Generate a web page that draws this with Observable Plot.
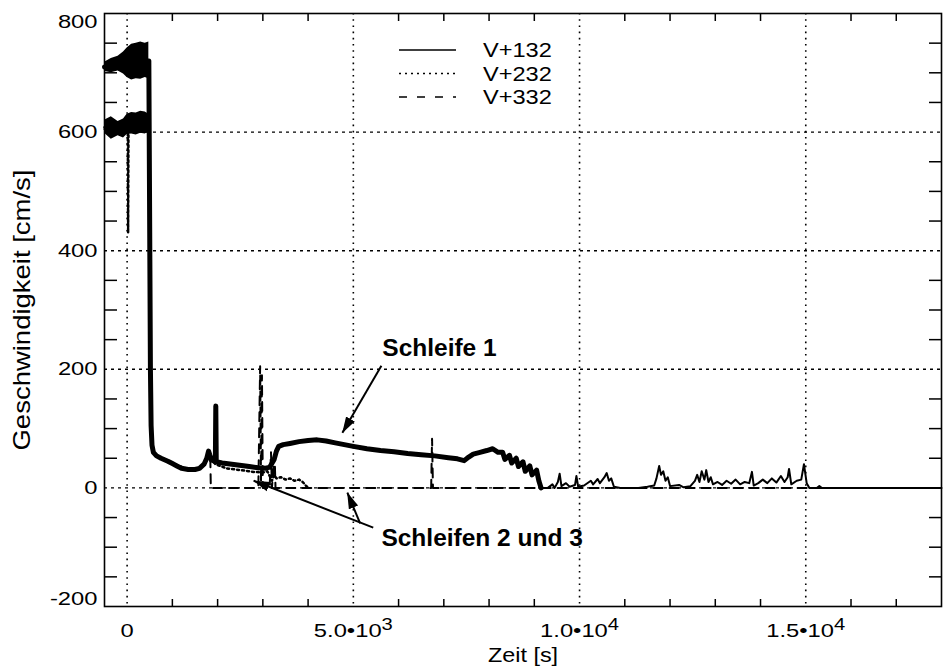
<!DOCTYPE html>
<html><head><meta charset="utf-8">
<script src="https://cdn.jsdelivr.net/npm/d3@7"></script>
<script src="https://cdn.jsdelivr.net/npm/@observablehq/plot@0.6"></script>
<style>
body{margin:0;background:#fff;}
#chart svg{font-family:"Liberation Sans",Arial,Helvetica,sans-serif;}
</style></head><body><div id="chart"></div>
<script>
// ---- series names ----
const seriesNames = ["V+132", "V+232", "V+332"];

// ---- noisy high-speed bands before the drop (time s, low / high cm/s) ----
const bandTime  = [-500, -350, -200, -80, 0, 100, 200, 300, 400, 480];
const band132Lo = [702, 700, 703, 698, 692, 688, 690, 689, 692, 690];
const band132Hi = [718, 724, 728, 735, 742, 748, 750, 752, 750, 752];
const band232Lo = [598, 588, 594, 590, 596, 597, 595, 598, 597, 600];
const band232Hi = [620, 626, 618, 622, 630, 633, 632, 635, 634, 630];

// ---- V+132 (Schleife 1) ----
const v132 = [
 [-500,710],[480,720],[500,420],[515,200],[530,105],[550,72],[580,60],[650,54],[750,50],[900,45],
 [1000,41],[1100,37],[1200,33],[1350,31],[1500,31],[1600,33],[1700,40],[1760,50],[1800,62],[1830,55],
 [1870,47],[1950,44],[1960,138],[1970,44],[2100,42],[2400,39],[2700,36],[2900,34],[3050,33],[3150,35],
 [3250,48],[3300,62],[3350,70],[3450,73],[3600,75],[3800,78],[4000,80],[4200,81],[4400,79],[4600,76],
 [4800,73],[5000,70],[5300,66],[5600,63],[5900,61],[6200,58],[6500,56],[6800,54],[7100,51],[7300,49],
 [7450,46],[7550,52],[7650,57],[7800,60],[7950,63],[8080,66],[8200,60],[8300,60],[8350,48],[8450,55],
 [8500,42],[8600,50],[8650,36],[8750,44],[8800,28],[8900,37],[8950,22],[9050,30],[9100,12],[9150,0],
 [9300,0],[9400,6],[9450,0],[9520,10],[9560,24],[9600,3],[9700,8],[9780,2],[9900,5],[9930,20],
 [9970,2],[10100,4],[10250,12],[10300,6],[10400,15],[10450,8],[10550,18],[10600,25],[10650,12],[10700,16],
 [10760,2],[10900,0],[11300,0],[11500,2],[11650,4],[11700,16],[11760,37],[11800,22],[11850,28],[11900,12],
 [11950,18],[12000,3],[12200,5],[12300,1],[12450,3],[12550,12],[12600,22],[12650,10],[12700,28],[12760,14],
 [12800,30],[12850,10],[12900,18],[12950,6],[13050,10],[13150,5],[13250,12],[13350,7],[13450,14],[13550,6],
 [13650,10],[13750,8],[13810,27],[13850,4],[13950,8],[14050,14],[14150,8],[14250,16],[14350,9],[14450,20],
 [14530,10],[14600,18],[14630,32],[14680,6],[14800,12],[14900,14],[14960,40],[15020,8],[15080,0],[15250,0],
 [15300,3],[15350,0],[18000,0]
];

// ---- V+232 ----
const v232 = [
 [-500,608],[0,610],[15,600],[22,430],[30,600],[480,612],[500,350],[515,160],[530,90],[560,65],
 [620,57],[700,53],[850,48],[1000,42],[1150,37],[1300,33],[1500,32],[1650,36],[1750,46],[1800,56],
 [1850,50],[1950,40],[2200,33],[2500,30],[2800,27],[3000,26],[3100,28],[3150,20],[3200,12],[3250,22],
 [3300,16],[3400,18],[3500,14],[3600,16],[3700,12],[3800,14],[3880,10],[3950,4],[4000,0]
];

// ---- V+332 ----
const v332 = [
 [-500,605],[480,600],[500,300],[515,140],[530,85],[560,63],[620,56],[700,51],[850,46],[1000,40],
 [1150,35],[1300,32],[1500,31],[1650,35],[1750,44],[1800,52],[1840,44],[1850,0],[2900,0],[2940,205],
 [2960,10],[2980,190],[3000,0],[3150,0],[3180,60],[3200,0],[3260,55],[3280,0],[6720,0],[6740,83],
 [6760,0],[18000,0]
];
const tailStart = 9150;

// ---- axes ----
const xGrid = [0, 5000, 10000, 15000];
const xTickMantissa = ["0", "5.0\u202210", "1.0\u202210", "1.5\u202210"];
const xTickExp = ["", "3", "4", "4"];
const xMinor = [1000,2000,3000,4000,6000,7000,8000,9000,11000,12000,13000,14000,16000,17000];
const yGrid = [0, 200, 400, 600];
const yMinor = [-150,-100,-50,50,100,150,250,300,350,450,500,550,650,700,750];
const xLabel = "Zeit [s]";
const yLabel = "Geschwindigkeit [cm/s]";

// ---- annotations ----
const annoText = ["Schleife 1", "Schleifen 2 und 3"];
const annoT = [5640, 5620];
const annoV = [235, -84];
const arrowT1 = [5620, 5440, 5150];
const arrowV1 = [206, -67, -60];
const arrowT2 = [4758, 2797, 4868];
const arrowV2 = [93, 12, -8];

const W = 943, H = 670, mL = 104, mR = 2, mT = 13, mB = 64;
const fw = W - mL - mR, fh = H - mT - mB;

const toRows = a => a.map(([t, v]) => ({t, v}));
const band = (lo, hi) => bandTime.map((t, i) => ({t, lo: lo[i], hi: hi[i]}));
const annos = annoText.map((s, i) => ({s, t: annoT[i], v: annoV[i]}));
const arrows = arrowT1.map((t, i) => ({t1: t, v1: arrowV1[i], t2: arrowT2[i], v2: arrowV2[i]}));
const rows132 = toRows(v132);

const chart = Plot.plot({
  width: W, height: H,
  marginLeft: mL, marginRight: mR, marginTop: mT, marginBottom: mB,
  style: {fontFamily: "Liberation Sans, Arial, sans-serif", fontSize: "19px", background: "white", color: "black"},
  x: {domain: [-500, 18000]},
  y: {domain: [-200, 800]},
  marks: [
    Plot.gridX(xGrid, {stroke: "black", strokeOpacity: 1, strokeWidth: 1.6, strokeDasharray: "1.6,4.6"}),
    Plot.gridY(yGrid, {stroke: "black", strokeOpacity: 1, strokeWidth: 1.4, strokeDasharray: "3,4"}),
    Plot.line(toRows(v332), {x: "t", y: "v", stroke: "black", strokeWidth: 2, strokeDasharray: "9,7"}),
    Plot.line(toRows(v232), {x: "t", y: "v", stroke: "black", strokeWidth: 2.5, strokeDasharray: "2,3"}),
    Plot.line(rows132.filter(d => d.t <= tailStart), {x: "t", y: "v", stroke: "black", strokeWidth: 5}),
    Plot.line(rows132.filter(d => d.t >= tailStart), {x: "t", y: "v", stroke: "black", strokeWidth: 2}),
    Plot.areaY(band(band132Lo, band132Hi), {x: "t", y1: "lo", y2: "hi", fill: "black"}),
    Plot.areaY(band(band232Lo, band232Hi), {x: "t", y1: "lo", y2: "hi", fill: "black"}),
    Plot.frame({stroke: "black", strokeWidth: 1.6}),
    Plot.tickX(xMinor, {x: d => d, insetTop: fh - 7, strokeWidth: 1.5}),
    Plot.tickX(xMinor, {x: d => d, insetBottom: fh - 8, strokeWidth: 1.5}),
    Plot.tickY(yMinor, {y: d => d, insetRight: fw - 13, strokeWidth: 1.5}),
    Plot.tickY(yMinor, {y: d => d, insetLeft: fw - 12, strokeWidth: 1.5}),
    Plot.axisX(xGrid, {anchor: "bottom", tickSize: 0, tickPadding: 17, fontSize: 19,
      tickFormat: d => xTickMantissa[xGrid.indexOf(d)], label: null}),
    Plot.axisY(yGrid, {anchor: "left", tickSize: 0, tickPadding: 7, fontSize: 19, tickFormat: d => String(d), label: null}),
    Plot.axisY([800], {anchor: "left", tickSize: 0, tickPadding: 7, fontSize: 19, dy: 8, tickFormat: d => String(d), label: null}),
    Plot.axisY([-200], {anchor: "left", tickSize: 0, tickPadding: 7, fontSize: 19, dy: -8, tickFormat: d => String(d), label: null}),
    Plot.text([xLabel], {text: d => d, frameAnchor: "bottom", dy: 49, lineAnchor: "middle", textAnchor: "middle", fontSize: 20}),
    Plot.text([yLabel], {text: d => d, frameAnchor: "left", dx: -82, rotate: -90, textAnchor: "middle", lineAnchor: "middle", fontSize: 23.5}),
    Plot.link(arrows, {x1: "t1", y1: "v1", x2: "t2", y2: "v2", stroke: "black", strokeWidth: 2}),
    Plot.text(annos, {x: "t", y: "v", text: "s", textAnchor: "start", lineAnchor: "middle", fontWeight: "bold", fontSize: 24.5})
  ]
});

document.getElementById("chart").appendChild(chart);
const svg = d3.select(chart);

// superscript exponents on x tick labels
svg.selectAll('g[aria-label="x-axis tick label"] text').each(function () {
  const i = xTickMantissa.indexOf(this.textContent);
  if (i >= 0 && xTickExp[i]) {
    d3.select(this).append("tspan").attr("dy", "-0.45em").attr("font-size", "0.85em").text(xTickExp[i]);
  }
});

// the original's lettering is wider than Helvetica: stretch along the text direction
function stretch(el, s) {
  let t = el.getAttribute("transform");
  if (!t) {
    const x = parseFloat(el.getAttribute("x")) || 0;
    el.setAttribute("x", 0);
    t = `translate(${x},0)`;
  }
  el.setAttribute("transform", t + ` scale(${s},1)`);
}
svg.selectAll('g[aria-label="x-axis tick label"] text').each(function () { stretch(this, 1.25); });
svg.selectAll('g[aria-label="y-axis tick label"] text').each(function () { stretch(this, 1.25); });
svg.selectAll("text").filter(function () {
  return this.textContent === xLabel || this.textContent === yLabel;
}).each(function () { stretch(this, 1.17); });

// filled arrowheads
const defs = svg.insert("defs", ":first-child");
defs.append("marker").attr("id", "filled-arrowhead")
  .attr("viewBox", "-16 -6 17 12").attr("markerWidth", 17).attr("markerHeight", 12)
  .attr("markerUnits", "userSpaceOnUse").attr("orient", "auto")
  .append("path").attr("d", "M-16,-5L0.5,0L-16,5Z").attr("fill", "black");
svg.selectAll('g[aria-label="link"] path').attr("marker-end", "url(#filled-arrowhead)");

// legend inside the frame
const dashes = [null, "2,4", "8,10"];
const lg = svg.append("g").attr("aria-label", "legend");
seriesNames.forEach((name, i) => {
  const y = 50 + i * 23.5;
  lg.append("line").attr("x1", 399).attr("x2", 456).attr("y1", y).attr("y2", y)
    .attr("stroke", "black").attr("stroke-width", 1.6).attr("stroke-dasharray", dashes[i]);
  lg.append("text").attr("transform", `translate(483,${y}) scale(1.18,1)`).attr("dy", "0.35em")
    .attr("text-anchor", "start").attr("font-size", 20).attr("fill", "black").text(name);
});
</script></body></html>
